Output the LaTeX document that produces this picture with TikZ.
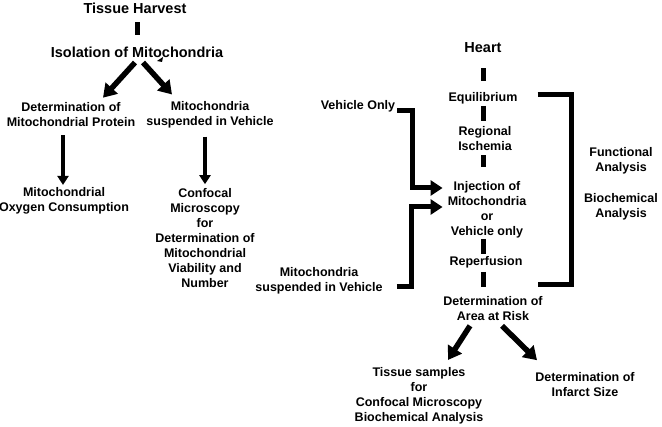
\documentclass[tikz,border=0pt]{standalone}
\usepackage{fontspec}
\setmainfont{Liberation Sans}
\usetikzlibrary{arrows.meta,calc}
\begin{document}
\begin{tikzpicture}[x=1pt,y=-1pt,
  txt/.style={font=\fontsize{12.5}{15}\selectfont\bfseries, align=center, inner sep=0pt},
  big/.style={font=\fontsize{14.5}{17}\selectfont\bfseries, align=center, inner sep=0pt},
  bar/.style={line width=5pt},
  brk/.style={line width=5pt, line join=miter},
  darr/.style={line width=5.5pt, -{Triangle[length=13pt,width=16pt]}},
  varr/.style={line width=3.5pt, -{Triangle[length=9pt,width=11pt]}},
  harr/.style={line width=5pt, line join=miter, -{Triangle[length=12pt,width=15pt]}}]
\useasboundingbox (0,0) rectangle (662,427);
% left column
\node[big] (th) at (135,8) {Tissue Harvest};
\node[big] (iso) at (137,52) {Isolation of Mitochondria};
\node[txt] (dmp) at (71,115) {Determination of\\Mitochondrial Protein};
\node[txt] (msv) at (210,115) {Mitochondria\\suspended in Vehicle};
\node[txt] (moc) at (64,200.5) {Mitochondrial\\Oxygen Consumption};
\node[txt] (cm) at (205,238) {Confocal\\Microscopy\\for\\Determination of\\Mitochondrial\\Viability and\\Number};
\draw[bar, shorten <=8.8pt, shorten >=11.6pt] (th.south -| iso.north) -- (iso.north);
\draw[darr] ($(iso.south)+(-2,5)$) -- ($(dmp.north)+(32,-5)$);
\draw[darr] ($(iso.south)+(6,5)$) -- ($(msv.north)+(-38,-7)$);
\fill (163,57) -- (162,62) -- (157,61) -- cycle;
\draw[varr] ($(dmp.south)+(-8,8)$) -- ($(moc.north)+(-1,-2)$);
\draw[varr] ($(msv.south)+(-5,8)$) -- ($(cm.north)+(0,-4)$);
% right column
\node[big] (heart) at (483,48) {Heart};
\node[txt] (equi) at (483,98) {Equilibrium};
\node[txt] (regi) at (485,138.5) {Regional\\Ischemia};
\node[txt] (inj) at (487,209.5) {Injection of\\Mitochondria\\or\\Vehicle only};
\node[txt] (rep) at (486,262) {Reperfusion};
\node[txt] (dar) at (493,308.5) {Determination of\\Area at Risk};
\node[txt] (tsb) at (419,395.5) {Tissue samples\\for\\Confocal Microscopy\\Biochemical Analysis};
\node[txt] (dis) at (585,384.5) {Determination of\\Infarct Size};
\node[txt] (vo) at (358,106) {Vehicle Only};
\node[txt] (msv2) at (319,280.5) {Mitochondria\\suspended in Vehicle};
\node[txt] (fa) at (621,161) {Functional\\Analysis};
\node[txt] (ba) at (621,206.5) {Biochemical\\Analysis};
\draw[bar, shorten <=14.8pt, shorten >=11.4pt] (heart.south) -- (heart.south |- equi.north);
\draw[bar, shorten <=1.9pt, shorten >=5.4pt] (heart |- equi.south) -- (heart |- regi.north);
\draw[bar, shorten <=4.5pt, shorten >=14.4pt] (heart |- regi.south) -- (heart |- inj.north);
\draw[bar, shorten <=0.9pt, shorten >=2.4pt] (heart |- inj.south) -- (heart |- rep.north);
\draw[bar, shorten <=3.9pt, shorten >=9.4pt] (heart |- rep.south) -- (heart |- dar.north);
\draw[darr] ($(dar.south)+(-23,5)$) -- ($(tsb.north)+(29,-7)$);
\draw[darr] ($(dar.south)+(9,5)$) -- ($(dis.north)+(-48,-12)$);
\draw[harr] ($(vo.east)+(2,5)$) -- ++(15,0) |- ([xshift=-5pt,yshift=21.5pt]inj.west);
\draw[harr] ($(msv2.east)+(14,6.5)$) -- ++(15,0) |- ([xshift=-5pt,yshift=2.5pt]inj.west);
\draw[brk] ($(equi.east)+(20,-3)$) -- ++(34,0) -- ++(0,190) -- ++(-34,0);
\end{tikzpicture}
\end{document}
